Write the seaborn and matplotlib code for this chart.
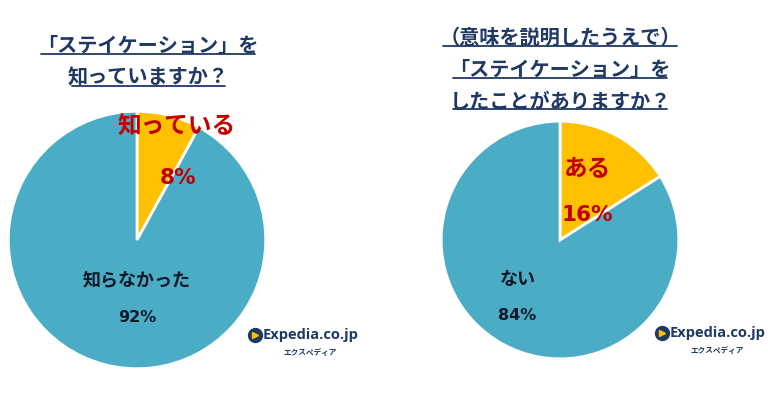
import matplotlib
matplotlib.use("Agg")
import matplotlib.pyplot as plt
import seaborn as sns
from matplotlib.lines import Line2D

sns.set_theme(style="white")
plt.rcParams['font.family'] = ['Noto Sans CJK JP', 'DejaVu Sans']

# データ
labels_1 = ["知っている", "知らなかった"]
values_1 = [8, 92]
labels_2 = ["ある", "ない"]
values_2 = [16, 84]
title_1 = ["「ステイケーション」を", "知っていますか？"]
title_2 = ["（意味を説明したうえで）", "「ステイケーション」を", "したことがありますか？"]

colors = ["#FFC000", "#4BACC6"]
red = "#C00000"
navy = "#1F3864"
num_font = ["DejaVu Sans"]

fig = plt.figure(figsize=(7.68, 3.95), dpi=100)
fig.patch.set_facecolor("white")

W, H = 768, 395


def px_axes(x0, y0, x1, y1):
    return fig.add_axes([x0 / W, 1 - y1 / H, (x1 - x0) / W, (y1 - y0) / H])


def draw_pie(ax, values):
    ax.pie(values, colors=colors, startangle=90, counterclock=False,
           wedgeprops=dict(edgecolor="white", linewidth=2))
    ax.set_xlim(-1.01, 1.01)
    ax.set_ylim(-1.01, 1.01)
    ax.set_aspect("equal")
    ax.axis("off")


ax1 = px_axes(7, 110, 267, 370)
draw_pie(ax1, values_1)
ax2 = px_axes(440, 120, 680, 360)
draw_pie(ax2, values_2)


def ftext(x, y, s, **kw):
    return fig.text(x / W, 1 - y / H, s, ha="center", va="center", **kw)


# ラベル
ftext(177, 127, labels_1[0], fontsize=17, color=red, fontweight="bold")
ftext(178, 178, f"{values_1[0]}%", fontsize=15.5, color=red, fontweight="bold", family=num_font)
ftext(137, 281, labels_1[1], fontsize=13, color="#111827", fontweight="bold")
ftext(137, 317, f"{values_1[1]}%", fontsize=11.5, color="#111827", fontweight="bold", family=num_font)

ftext(587, 168, labels_2[0], fontsize=17, color=red, fontweight="bold")
ftext(587, 215, f"{values_2[0]}%", fontsize=15.5, color=red, fontweight="bold", family=num_font)
ftext(518, 279, labels_2[1], fontsize=13, color="#111827", fontweight="bold")
ftext(517, 315, f"{values_2[1]}%", fontsize=11.5, color="#111827", fontweight="bold", family=num_font)

# タイトル（下線付き）
titles = []
for i, line in enumerate(title_1):
    titles.append(ftext(148, 45 + i * 32, line, fontsize=14.5, color=navy, fontweight="bold"))
for i, line in enumerate(title_2):
    titles.append(ftext(560, 37 + i * 32, line, fontsize=14.5, color=navy, fontweight="bold"))

fig.canvas.draw()
renderer = fig.canvas.get_renderer()
for t in titles:
    bb = t.get_window_extent(renderer).transformed(fig.transFigure.inverted())
    y = bb.y0 + 2 / H
    fig.add_artist(Line2D([bb.x0 + 4 / W, bb.x1 - 4 / W], [y, y], transform=fig.transFigure,
                          color=navy, linewidth=1.3))

# ロゴ
for lx, ly in [(255, 335), (662, 333)]:
    fig.add_artist(Line2D([lx / W], [1 - ly / H], transform=fig.transFigure,
                          marker="o", markersize=10, color=navy))
    fig.add_artist(Line2D([lx / W], [1 - ly / H], transform=fig.transFigure,
                          marker=">", markersize=5, color="#FFC000"))
    fig.text((lx + 8) / W, 1 - ly / H, "Expedia.co.jp", fontsize=10.5, color=navy,
             ha="left", va="center", fontweight="bold", family=["Open Sans", "DejaVu Sans"])
    fig.text((lx + 82) / W, 1 - (ly + 17) / H, "エクスペディア", fontsize=5.5, color=navy,
             ha="right", va="center", fontweight="bold")

fig.savefig("out.png", dpi=100)
